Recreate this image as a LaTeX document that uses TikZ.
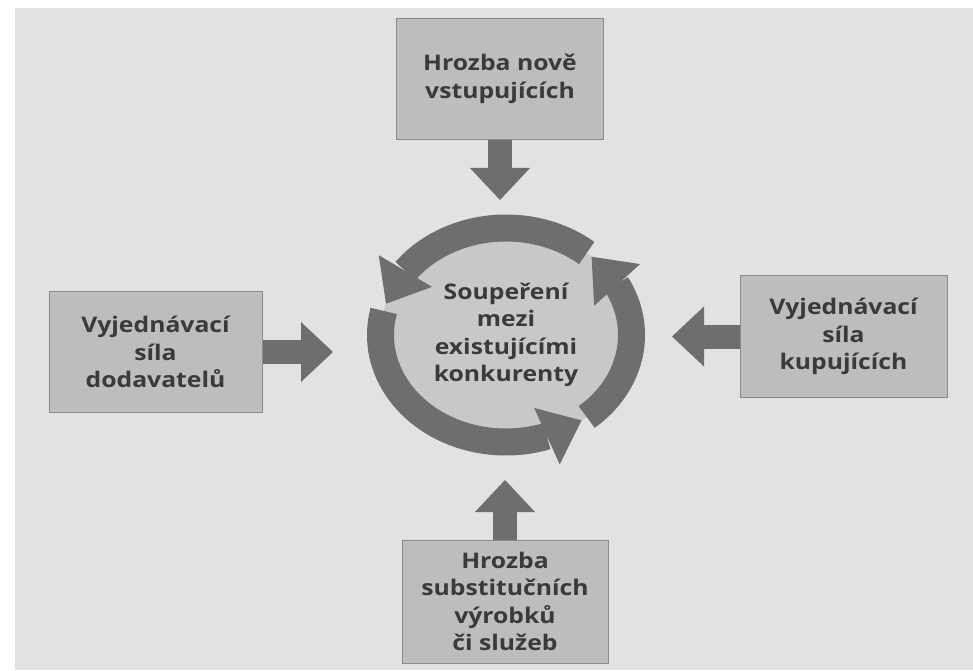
\documentclass[tikz,border=0pt]{standalone}
\usepackage{fontspec}
\newfontfamily\forcefont[FakeStretch=1.15]{Open Sans}
\usepackage{tikz}
\usetikzlibrary{shapes.geometric, arrows.meta, bending, positioning, calc}
\definecolor{paper}{HTML}{E2E2E2}
\definecolor{boxgray}{HTML}{BDBDBD}
\definecolor{boxline}{HTML}{8A8A8A}
\definecolor{ringgray}{HTML}{6E6E6E}
\definecolor{innergray}{HTML}{C8C8C8}
\definecolor{inkgray}{HTML}{3A3A3A}

\begin{document}
\begin{tikzpicture}
  [
    x=1pt, y=1pt,
    Force/.style={rectangle, draw=boxline, line width=1pt, fill=boxgray, minimum width=207pt, minimum height=121pt, align=center, text=inkgray, font=\forcefont\bfseries\fontsize{21.5}{27.5}\selectfont},
    Rivalry/.style={ellipse, fill=innergray, minimum width=251pt, minimum height=214pt, inner sep=0pt, align=center, text=inkgray, font=\forcefont\bfseries\fontsize{21.5}{27.5}\selectfont},
    Push/.style={draw=ringgray, line width=24pt, -{Triangle[width=60pt, length=32pt, line width=0pt]}},
    Ring/.style={draw=ringgray, line width=27pt, -{Triangle[flex, width=62pt, length=38pt, line width=0pt]}}
  ]
  % Page
  \useasboundingbox[fill=white] (0,0) rectangle (973,670);
  \fill[paper] (15,0) rectangle (973,662);

  % Nodes
  \node[Rivalry] (rivalry) at (506,335) {Soupeření\\mezi\\existujícími\\konkurenty};

  \node[Force] (entrants) at (500,591) {Hrozba nově\\vstupujících};

  \node[Force, minimum width=213pt, minimum height=120pt] (suppliers) at (155.5,318) {Vyjednávací\\síla\\dodavatelů};

  \node[Force] (buyers) at (843.5,333.5) {Vyjednávací\\síla\\kupujících};

  \node[Force, minimum width=206pt, minimum height=123pt] (substitutes) at (505,68.5) {Hrozba\\substitučních\\výrobků\\či služeb};

  \coordinate (tipTop) at (500,470);
  \coordinate (tipLeft) at (333,318);
  \coordinate (tipRight) at (672,333.5);
  \coordinate (tipBottom) at (505,190);

  % Ring
  \draw[Ring] ($(rivalry.center)+(-50:125.5 and 107)$) arc[start angle=-50, end angle=47, x radius=125.5, y radius=107];
  \draw[Ring] ($(rivalry.center)+(50:125.5 and 107)$) arc[start angle=50, end angle=163, x radius=125.5, y radius=107];
  \draw[Ring] ($(rivalry.center)+(167:125.5 and 107)$) arc[start angle=167, end angle=307, x radius=125.5, y radius=107];

  % Lines
  \path[Push] (entrants) -- (tipTop);
  \path[Push] (suppliers) -- (tipLeft);
  \path[Push] (buyers) -- (tipRight);
  \path[Push] (substitutes) -- (tipBottom);

\end{tikzpicture}
\end{document}
